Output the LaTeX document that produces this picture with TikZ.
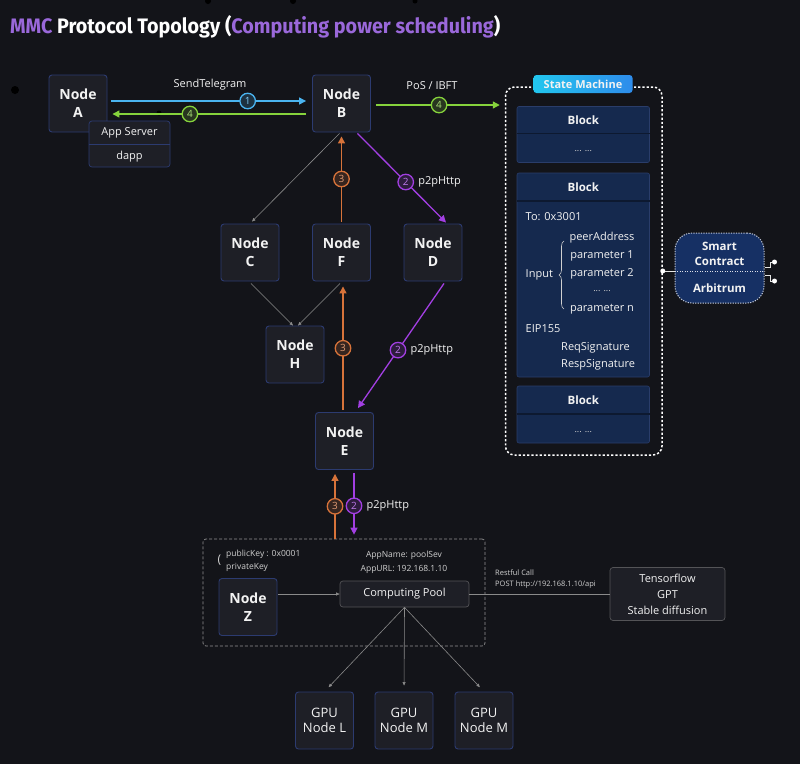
\documentclass[tikz,border=0pt]{standalone}
\usepackage{fontspec}
\setmainfont{Open Sans}
\newfontfamily\titlefont{Fira Sans}
\usetikzlibrary{arrows.meta,calc,positioning,decorations.pathreplacing}
\definecolor{bgc}{HTML}{131419}
\definecolor{ndfill}{HTML}{1E1F26}
\definecolor{ndborder}{HTML}{2C3B70}
\definecolor{txt}{HTML}{F2F2F2}
\definecolor{stxt}{HTML}{D0D0D0}
\definecolor{tpurple}{HTML}{9A68DA}
\definecolor{cblue}{HTML}{4AB4F0}
\definecolor{cgreen}{HTML}{86D33C}
\definecolor{corange}{HTML}{D7733A}
\definecolor{cpurple}{HTML}{A23FE2}
\definecolor{gline}{HTML}{8A8A8A}
\definecolor{blkfill}{HTML}{15294E}
\definecolor{blkborder}{HTML}{2A3D6A}
\definecolor{blkdiv}{HTML}{0D1930}
\definecolor{scfill}{HTML}{163064}
\definecolor{smA}{HTML}{22C6EE}
\definecolor{smB}{HTML}{2E8CEB}
\begin{document}
\begin{tikzpicture}[x=1pt,y=-1pt,
  every node/.style={text=txt},
  nd/.style={draw=ndborder, fill=ndfill, rounded corners=3pt, line width=0.9pt,
    minimum width=58pt, minimum height=57pt, inner sep=0pt, align=center,
    font=\fontsize{14}{18}\selectfont\bfseries},
  gpu/.style={nd, font=\fontsize{13}{14.5}\selectfont},
  plainbox/.style={draw=#1, fill=ndfill, rounded corners=3pt, line width=0.7pt, inner sep=0pt},
  lbl/.style={inner sep=0pt, font=\fontsize{11}{13}\selectfont},
  slbl/.style={inner sep=0pt, text=stxt, font=\fontsize{8.5}{10}\selectfont},
  tlbl/.style={inner sep=0pt, text=stxt, font=\fontsize{7.5}{9}\selectfont},
  num/.style={circle, draw=#1, fill=#1!18!bgc, line width=1.3pt, inner sep=0pt,
    minimum size=15.5pt, text=#1!70!white, font=\fontsize{10}{10}\selectfont},
  arr/.style={draw=#1, line width=1.3pt, -{Triangle[length=7pt,width=7pt]}},
  garr/.style={draw=gline, line width=0.6pt, -{Triangle[length=3.5pt,width=3pt]}},
  gl/.style={draw=gline, line width=0.6pt},
  blk/.style={draw=blkborder, fill=blkfill, rounded corners=2pt, line width=0.6pt,
    minimum width=132.5pt, inner sep=0pt},
  bdiv/.style={draw=blkdiv, line width=1.4pt},
  bhead/.style={inner sep=0pt, font=\fontsize{11.5}{13}\selectfont\bfseries},
  bdots/.style={inner sep=0pt, text=stxt, font=\fontsize{9}{10}\selectfont},
  btxt/.style={inner sep=0pt, font=\fontsize{11}{13}\selectfont},
  dot/.style={circle, fill=white, inner sep=0pt, minimum size=5pt},
  wline/.style={draw=white!80!gray, line width=1pt},
]
\fill[bgc] (0,0) rectangle (800,764);
\useasboundingbox (0,0) rectangle (800,764);

% stray dark spots
\fill[black] (15,90) circle (4);
\fill[black] (208,1) circle (3);
\fill[black] (293,1) circle (3);
\fill[black] (415,1) circle (2.5);

% title
\node[anchor=base west, inner sep=0pt, text=white] (title) at (10,33)
  {\resizebox{490pt}{18pt}{\titlefont\bfseries\textcolor{tpurple}{MMC} Protocol Topology (\textcolor{tpurple}{Computing power scheduling})}};

% top nodes
\node[nd] (A) at (78,103.5) {Node\\A};
\node[plainbox=ndborder, minimum width=81pt, minimum height=46pt] (app) at (129.5,144) {};
\draw[draw=ndborder, line width=0.7pt] (app.west) -- (app.east);
\node[lbl] (appsrv) at (129.5,133) {App Server};
\node[lbl] (dapp) at (129.5,156.5) {dapp};
\node[nd] (B) at (341.5,103.5) {Node\\B};

\fill[black] (159,113) circle (2.5);

% A <-> B
\draw[arr=cblue] ($(A.east)+(4,-2.5)$) -- ($(B.west)+(-6,-2.5)$)
  node[num=cblue, pos=0.70] (c1) {1};
\node[lbl] (sendt) at (210,85) {SendTelegram};
\draw[arr=cgreen] ($(B.west)+(-6,10.5)$) -- ($(A.east)+(5,10.5)$)
  node[num=cgreen, pos=0.60] (c4a) {4};

% state machine
\node[draw=white, line width=1.5pt, dash pattern=on 2.2pt off 2pt, rounded corners=9pt,
  minimum width=156.5pt, minimum height=368pt, inner sep=0pt] (sm) at (583.75,271) {};
\node[left color=smA, right color=smB, rounded corners=3pt, minimum width=99pt,
  minimum height=18pt, inner sep=0pt, font=\fontsize{11}{13}\selectfont\bfseries] (smlbl) at (583,84) {State Machine};
\coordinate (gs) at ($(B.east)+(5,1.5)$);
\draw[arr=cgreen, shorten >=5pt] (gs) -- (gs -| sm.west)
  node[num=cgreen, pos=0.49] (c4b) {4};
\node[lbl] (pos) at (432,86) {PoS / IBFT};

% blocks
\node[blk, minimum height=56pt] (b1) at (583.25,134.5) {};
\draw[bdiv] (b1.west |- 0,133.5) -- (b1.east |- 0,133.5);
\node[bhead] (b1h) at (583.25,120) {Block};
\node[bdots] (b1d) at (583.25,151) {... ...};

\node[blk, minimum height=204pt] (b2) at (583.25,275) {};
\draw[bdiv] (b2.west |- 0,201) -- (b2.east |- 0,201);
\node[bhead] (b2h) at (583.25,187) {Block};
\node[btxt, anchor=west] (to) at (525.5,217) {To: 0x3001};
\node[btxt, anchor=west] (inp) at (525.5,275) {Input};
\node[btxt] (p0) at (602,238) {peerAddress};
\node[btxt] (p1) at (602,256) {parameter 1};
\node[btxt] (p2) at (602,274) {parameter 2};
\node[bdots] (p3) at (602,291) {... ...};
\node[btxt] (pn) at (602,309) {parameter n};
\draw[draw=stxt, line width=0.6pt, decorate, decoration={brace, amplitude=5pt}] (564,309) -- (564,241);
\node[btxt, anchor=west] (eip) at (525.5,329) {EIP155};
\node[btxt, anchor=west] (req) at (561,348) {ReqSignature};
\node[btxt, anchor=west] (resp) at (561,365) {RespSignature};

\node[blk, minimum height=57pt] (b3) at (583.25,414.5) {};
\draw[bdiv] (b3.west |- 0,414) -- (b3.east |- 0,414);
\node[bhead] (b3h) at (583.25,400) {Block};
\node[bdots] (b3d) at (583.25,432) {... ...};

% smart contract
\node[draw=white!75!scfill, fill=scfill, line width=1pt, dash pattern=on 1.2pt off 1.3pt,
  rounded corners=17pt, minimum width=89pt, minimum height=70pt, inner sep=0pt] (sc) at (719.5,268) {};
\node[inner sep=0pt, align=center, font=\fontsize{11.5}{15}\selectfont\bfseries] (sct) at (719.5,253.5) {Smart\\Contract};
\node[inner sep=0pt, font=\fontsize{11.5}{13}\selectfont\bfseries] (arb) at (719.5,288) {Arbitrum};
\node[dot] (dl) at (sm.east) {};
\draw[wline] (dl) -- (dl -| sc.west);
\draw[draw=white!85!scfill, line width=1pt, dash pattern=on 1.2pt off 1.3pt] (dl -| sc.west) -- (dl -| sc.east);
\node[dot] (dtop) at (774.5,262) {};
\node[dot] (dbot) at (774.5,281) {};
\draw[wline] ($(sc.east)+(0,-1)$) -- ++(6,0) |- (dtop);
\draw[wline] ($(sc.east)+(0,7)$) -- ++(6,0) |- (dbot);

% middle nodes
\node[nd] (C) at (250,252.5) {Node\\C};
\node[nd] (F) at (341.5,252.5) {Node\\F};
\node[nd] (D) at (433,252.5) {Node\\D};
\node[nd] (H) at (295,354.5) {Node\\H};
\node[nd] (E) at (344.5,441) {Node\\E};

% B connections
\draw[garr] ($(B.south)+(-2,1)$) -- ($(C.north)+(2,-2)$);
\draw[arr=corange] ($(F.north)+(0,-2)$) -- ($(B.south)+(0,4)$)
  node[num=corange, midway] (c3a) {3};
\draw[arr=cpurple] ($(B.south)+(16,1)$) -- ($(D.north)+(13,-1)$)
  node[num=cpurple, pos=0.545] (c2a) {2};
\node[lbl, right=4pt of c2a] (p2pa) {p2pHttp};

% C,F -> H
\draw[garr] ($(C.south)+(1,2)$) -- ($(H.north)+(-2,0)$);
\draw[garr] ($(F.south)+(-1.5,2)$) -- ($(H.north)+(3,0)$);

% E -> F, D -> E
\draw[arr=corange] ($(E.north)+(-1.5,-2)$) -- ($(E.north |- F.south)+(-1.5,5)$)
  node[num=corange, midway] (c3b) {3};
\draw[arr=cpurple] ($(D.south)+(11,2)$) -- ($(E.north)+(13.5,-4)$)
  node[num=cpurple, pos=0.535] (c2b) {2};
\node[lbl, right=4pt of c2b] (p2pb) {p2pHttp};

% computing pool cluster
\node[draw=gray!85!white, line width=0.7pt, dash pattern=on 3pt off 2pt, rounded corners=3pt,
  minimum width=282pt, minimum height=107pt, inner sep=0pt] (zbox) at (344,592.5) {};
\coordinate (eo) at ($(E.south)+(-9.5,4)$);
\coordinate (ep) at ($(E.south)+(9.5,3)$);
\draw[arr=corange] (eo |- zbox.north) -- (eo) node[num=corange, midway] (c3c) {3};
\draw[arr=cpurple, shorten >=4pt] (ep) -- (ep |- zbox.north) node[num=cpurple, midway] (c2c) {2};
\node[lbl, right=4pt of c2c] (p2pc) {p2pHttp};

\node[slbl, anchor=west] (pk) at (226,554) {publicKey : 0x0001};
\node[slbl, anchor=west] (prk) at (226,567) {privateKey};
\node[inner sep=0pt, text=stxt, font=\fontsize{12}{12}\selectfont] (par) at (219.5,560.5) {(};
\node[slbl] (appn) at (404,555) {AppName: poolSev};
\node[slbl] (appu) at (404,569) {AppURL: 192.168.1.10};

\node[nd] (Z) at (248,607) {Node\\Z};
\node[plainbox=gray!55!ndfill, minimum width=129pt, minimum height=26pt,
  font=\fontsize{11}{13}\selectfont] (pool) at (404.5,594) {Computing Pool};
\coordinate (zo) at ($(Z.east)+(1,-13)$);
\draw[garr] (zo) -- (zo -| pool.west);

\node[plainbox=gray!55!ndfill, minimum width=115pt, minimum height=53pt, align=center,
  font=\fontsize{11}{16}\selectfont] (tf) at (667.5,594) {Tensorflow\\GPT\\Stable diffusion};
\draw[gl] (pool.east) -- (tf.west);
\node[tlbl, anchor=west] (rc) at (495,573) {Restful Call};
\node[tlbl, anchor=west] (post) at (495,585) {POST http://192.168.1.10/api};

% GPU nodes
\node[gpu] (gL) at (324.5,720.5) {GPU\\Node L};
\node[gpu] (gM) at (404,720.5) {GPU\\Node M};
\node[gpu] (gN) at (484,720.5) {GPU\\Node M};
\draw[garr, shorten >=6pt] (pool.south) -- (gL.north);
\draw[garr, shorten >=6pt] (pool.south) -- (gM.north);
\draw[garr, shorten >=6pt] (pool.south) -- (gN.north);
\end{tikzpicture}
\end{document}
